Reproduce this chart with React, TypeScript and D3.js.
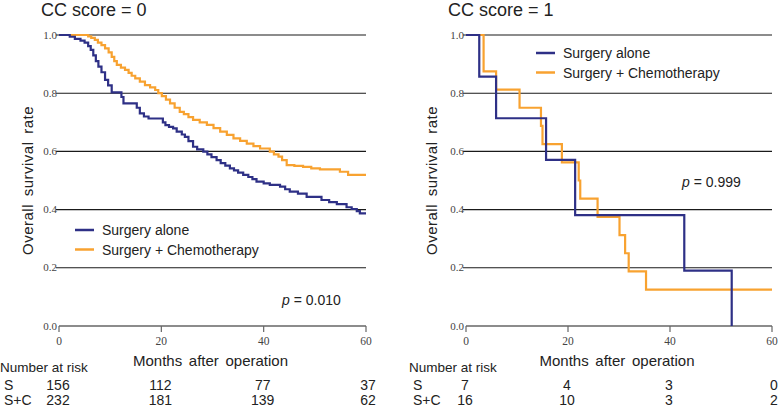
import React from 'react';
import * as d3 from 'd3';

// ==================== DATA ====================
const MONTH_TICKS = [0, 20, 40, 60];
const RATE_TICKS = [0.2, 0.4, 0.6, 0.8, 1.0];
const SERIES_NAMES = ['Surgery alone', 'Surgery + Chemotherapy'];

// CC score = 0
const cc0AloneMonths = [0, 2.1, 3.1, 4.2, 5.0, 5.7, 6.2, 6.7, 7.2, 7.7, 8.3, 9.0, 9.6, 10.3, 12.2, 12.6, 15.2, 15.8, 16.6, 17.5, 20.3, 20.8, 21.5, 22.3, 23.0, 24.0, 24.6, 25.3, 26.2, 27.0, 28.2, 29.0, 29.8, 30.8, 31.6, 32.5, 33.4, 34.2, 35.0, 36.0, 37.0, 37.8, 38.6, 40.0, 41.2, 43.2, 44.2, 45.1, 46.7, 48.4, 51.3, 52.8, 54.3, 56.2, 57.2, 58.2, 58.8, 60];
const cc0AloneRate = [1.0, 0.994, 0.987, 0.981, 0.974, 0.962, 0.949, 0.930, 0.910, 0.891, 0.872, 0.846, 0.827, 0.803, 0.787, 0.765, 0.750, 0.731, 0.720, 0.713, 0.700, 0.690, 0.684, 0.679, 0.668, 0.658, 0.650, 0.635, 0.616, 0.607, 0.599, 0.590, 0.580, 0.570, 0.560, 0.551, 0.542, 0.535, 0.527, 0.519, 0.512, 0.505, 0.496, 0.490, 0.485, 0.479, 0.470, 0.462, 0.455, 0.444, 0.433, 0.426, 0.419, 0.408, 0.402, 0.395, 0.387, 0.387];
const cc0ChemoMonths = [0, 5.7, 6.3, 7.0, 7.6, 8.3, 9.0, 9.7, 10.3, 10.8, 11.3, 12.1, 12.9, 13.6, 14.2, 14.9, 15.8, 16.8, 17.8, 18.8, 19.4, 20.1, 20.9, 21.7, 22.6, 23.6, 24.4, 25.3, 26.2, 27.5, 28.9, 30.2, 31.5, 32.8, 34.1, 35.4, 36.7, 38.0, 39.3, 41.2, 42.0, 42.9, 43.6, 44.5, 46.0, 47.7, 49.3, 51.0, 54.9, 56.5, 60];
const cc0ChemoRate = [1.0, 0.995, 0.990, 0.983, 0.974, 0.965, 0.954, 0.940, 0.925, 0.910, 0.897, 0.888, 0.880, 0.870, 0.860, 0.851, 0.840, 0.828, 0.820, 0.811, 0.800, 0.790, 0.778, 0.765, 0.750, 0.736, 0.728, 0.718, 0.708, 0.700, 0.691, 0.680, 0.668, 0.657, 0.645, 0.636, 0.627, 0.618, 0.610, 0.599, 0.590, 0.582, 0.570, 0.553, 0.550, 0.547, 0.542, 0.538, 0.530, 0.519, 0.519];
const cc0RiskAlone = ['156', '112', '77', '37'];
const cc0RiskChemo = ['232', '181', '139', '62'];

// CC score = 1
const cc1AloneMonths = [0, 2.6, 5.9, 15.7, 21.4, 42.8, 52.1];
const cc1AloneRate = [1.0, 0.857, 0.714, 0.571, 0.381, 0.190, 0.0];
const cc1ChemoMonths = [0, 3.45, 5.9, 10.5, 14.7, 15.0, 18.8, 22.1, 22.4, 25.8, 30.1, 31.2, 31.9, 35.3, 60];
const cc1ChemoRate = [1.0, 0.875, 0.8125, 0.75, 0.6875, 0.625, 0.5625, 0.5, 0.4375, 0.375, 0.3125, 0.25, 0.1875, 0.125, 0.125];
const cc1RiskAlone = ['7', '4', '3', '0'];
const cc1RiskChemo = ['16', '10', '3', '2'];

const BLUE = '#2e3086';
const ORANGE = '#f8a230';
const SANS = 'Arial, "Liberation Sans", sans-serif';
const SERIF = '"Liberation Serif", "Times New Roman", serif';

type PanelProps = {
  left: number;
  x0: number;
  x1: number;
  title: string;
  titleX: number;
  alone: [number[], number[]];
  chemo: [number[], number[]];
  riskAlone: string[];
  riskChemo: string[];
  legendX: number;
  legendY: number;
  pText: string;
  pX: number;
  pY: number;
  yLabelX: number;
};

const Panel = (p: PanelProps) => {
  const x = d3.scaleLinear().domain([0, 60]).range([p.x0, p.x1]);
  const y = d3.scaleLinear().domain([0, 1]).range([326, 35]);
  const line = d3.line<[number, number]>()
    .x(d => x(d[0]))
    .y(d => y(d[1]))
    .curve(d3.curveStepAfter);
  const pts = (s: [number[], number[]]) => s[0].map((m, i) => [m, s[1][i]] as [number, number]);
  const midX = (p.x0 + p.x1) / 2;

  return (
    <g>
      <text x={p.titleX} y={16} fontFamily={SANS} fontSize={18} fill="#222">{p.title}</text>

      {/* grid lines */}
      {RATE_TICKS.map(t => (
        <g key={t}>
          <line x1={p.x0 - 3} x2={p.x1} y1={y(t)} y2={y(t)} stroke="#1a1a1a" strokeWidth={1.1} />
          <text x={p.x0 - 2} y={y(t) + 3.5} textAnchor="end" fontFamily={SERIF} fontSize={11} fill="#444">{t.toFixed(1)}</text>
        </g>
      ))}
      <text x={p.x0 - 2} y={y(0) + 3.5} textAnchor="end" fontFamily={SERIF} fontSize={11} fill="#444">0.0</text>

      {/* x axis */}
      <line x1={p.x0} x2={p.x1} y1={y(0)} y2={y(0)} stroke="#666" strokeWidth={1.5} />
      {MONTH_TICKS.map(t => (
        <g key={t}>
          <line x1={x(t)} x2={x(t)} y1={y(0)} y2={y(0) + 6} stroke="#666" strokeWidth={1.2} />
          <text x={x(t)} y={345} textAnchor="middle" fontFamily={SERIF} fontSize={11.5} fill="#444">{t}</text>
        </g>
      ))}

      {/* curves */}
      <path d={line(pts(p.chemo)) || ''} fill="none" stroke={ORANGE} strokeWidth={2.2} />
      <path d={line(pts(p.alone)) || ''} fill="none" stroke={BLUE} strokeWidth={2.2} />

      {/* legend */}
      {SERIES_NAMES.map((n, i) => (
        <g key={n}>
          <line x1={p.legendX} x2={p.legendX + 19} y1={p.legendY + i * 19.5} y2={p.legendY + i * 19.5}
            stroke={i === 0 ? BLUE : ORANGE} strokeWidth={2.5} />
          <text x={p.legendX + 27} y={p.legendY + i * 19.5 + 5} fontFamily={SANS} fontSize={14} fill="#222">{n}</text>
        </g>
      ))}

      <text x={p.pX} y={p.pY} fontFamily={SANS} fontSize={14} fill="#222">
        <tspan fontStyle="italic">p</tspan> = {p.pText}
      </text>

      {/* axis labels */}
      <text transform={`translate(${p.yLabelX},${y(0.5)}) rotate(-90)`} textAnchor="middle"
        fontFamily={SANS} fontSize={15} letterSpacing={0.5} wordSpacing={3} fill="#222">Overall survival rate</text>
      <text x={midX - 2} y={366} textAnchor="middle" fontFamily={SANS} fontSize={15} wordSpacing={2.5} fill="#222">Months after operation</text>

      {/* number at risk */}
      <text x={p.left} y={372} fontFamily={SANS} fontSize={13.5} fill="#222">Number at risk</text>
      <text x={p.left + 4} y={390} fontFamily={SANS} fontSize={14} fill="#222">S</text>
      <text x={p.left + 4} y={405} fontFamily={SANS} fontSize={14} fill="#222">S+C</text>
      {MONTH_TICKS.map((t, i) => (
        <g key={'r' + t}>
          <text x={x(t) + (i === 3 ? 2 : -1)} y={390} textAnchor="middle" fontFamily={SANS} fontSize={14} fill="#222">{p.riskAlone[i]}</text>
          <text x={x(t) + (i === 3 ? 2 : -1)} y={405} textAnchor="middle" fontFamily={SANS} fontSize={14} fill="#222">{p.riskChemo[i]}</text>
        </g>
      ))}
    </g>
  );
};

export default function App() {
  return (
    <div style={{ position: 'absolute', left: 0, top: 0 }}>
      <svg width={778} height={408} style={{ display: 'block', background: '#fff' }}>
        <Panel left={0} x0={59} x1={366} title="CC score = 0" titleX={41}
          alone={[cc0AloneMonths, cc0AloneRate]} chemo={[cc0ChemoMonths, cc0ChemoRate]}
          riskAlone={cc0RiskAlone} riskChemo={cc0RiskChemo}
          legendX={75} legendY={230} pText="0.010" pX={282} pY={305} yLabelX={33} />
        <Panel left={409} x0={466} x1={772} title="CC score = 1" titleX={448}
          alone={[cc1AloneMonths, cc1AloneRate]} chemo={[cc1ChemoMonths, cc1ChemoRate]}
          riskAlone={cc1RiskAlone} riskChemo={cc1RiskChemo}
          legendX={536} legendY={53} pText="0.999" pX={682} pY={187} yLabelX={437} />
      </svg>
    </div>
  );
}
